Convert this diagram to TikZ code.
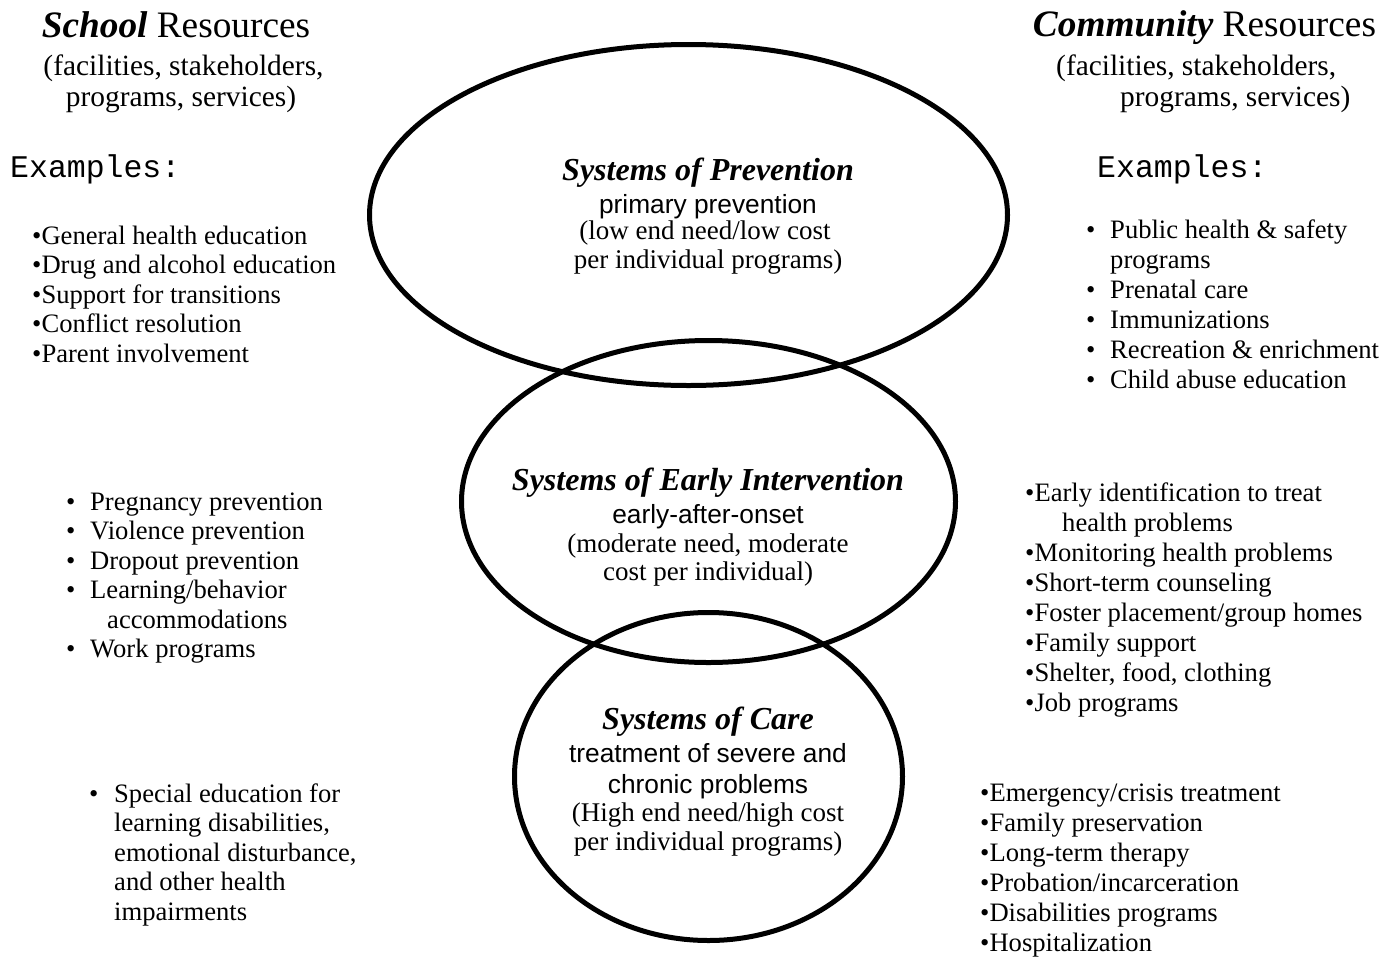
\documentclass[tikz,border=0pt]{standalone}
\usepackage{fontspec}
\setmainfont{Liberation Serif}
\newfontfamily\arialf{Liberation Sans}
\newfontfamily\courf{Liberation Mono}
\usetikzlibrary{shapes.geometric}
\tikzset{
  ttl/.style={font=\fontsize{37.3}{40}\selectfont, inner sep=0pt, anchor=base},
  sub/.style={font=\fontsize{29.4}{32}\selectfont, inner sep=0pt},
  exm/.style={font=\courf\fontsize{31.5}{32}\selectfont, inner sep=0pt, anchor=base west},
  li/.style={font=\fontsize{26.6}{30}\selectfont, inner sep=0pt, anchor=base west},
  hd/.style={font=\bfseries\itshape\fontsize{32}{36}\selectfont, inner sep=0pt, anchor=base},
  sf/.style={font=\arialf\fontsize{26.3}{30}\selectfont, inner sep=0pt, anchor=base},
  cs/.style={font=\fontsize{27}{30}\selectfont, inner sep=0pt, anchor=base},
  ring/.style={draw, ellipse, line width=5pt, inner sep=0pt, outer sep=0pt}
}
\begin{document}
\begin{tikzpicture}[x=1pt, y=-1pt]
\useasboundingbox (0,0) rectangle (1395,959);
% ellipses
\node[ring, minimum width=638pt, minimum height=341pt] (prev) at (688.5,215) {};
\node[ring, minimum width=494pt, minimum height=322pt] (early) at (708.5,501.5) {};
\node[ring, minimum width=388pt, minimum height=328pt] (care) at (708.5,776.5) {};
% ellipse texts
\node[hd] (p1) at (708,180) {Systems of Prevention};
\node[sf] (p2) at (708,213) {primary prevention};
\node[cs] (p3) at (705,239) {(low end need/low cost};
\node[cs] (p4) at (708,268) {per individual programs)};
\node[hd] (e1) at (708,490) {Systems of Early Intervention};
\node[sf] (e2) at (708,523) {early-after-onset};
\node[cs] (e3) at (708,552) {(moderate need, moderate};
\node[cs] (e4) at (708,580) {cost per individual)};
\node[hd] (c1) at (708,729) {Systems of Care};
\node[sf] (c2) at (708,762) {treatment of severe and};
\node[sf] (c3) at (708,793) {chronic problems};
\node[cs] (c4) at (708,821) {(High end need/high cost};
\node[cs] (c5) at (708,850) {per individual programs)};
% left header
\node[ttl] (lt) at (176,37) {\textbf{\textit{School}} Resources};
\node[sub, anchor=base] (ls1) at (183.5,75) {(facilities, stakeholders,};
\node[sub, anchor=base] (ls2) at (181,106) {programs, services)};
\node[exm] (lex) at (10,177) {Examples:};
% left list 1
\node[li] (la1) at (32,244) {•General health education};
\node[li] (la2) at (32,273.5) {•Drug and alcohol education};
\node[li] (la3) at (32,303) {•Support for transitions};
\node[li] (la4) at (32,332.5) {•Conflict resolution};
\node[li] (la5) at (32,362) {•Parent involvement};
% left list 2
\node[li] (lb1b) at (66,510) {•};
\node[li] (lb1) at (90,510) {Pregnancy prevention};
\node[li] (lb2b) at (66,539.5) {•};
\node[li] (lb2) at (90,539.5) {Violence prevention};
\node[li] (lb3b) at (66,569) {•};
\node[li] (lb3) at (90,569) {Dropout prevention};
\node[li] (lb4b) at (66,598.5) {•};
\node[li] (lb4) at (90,598.5) {Learning/behavior};
\node[li] (lb5) at (107,628) {accommodations};
\node[li] (lb6b) at (66,657.5) {•};
\node[li] (lb6) at (90,657.5) {Work programs};
% left list 3
\node[li] (lc1b) at (89,802) {•};
\node[li] (lc1) at (114,802) {Special education for};
\node[li] (lc2) at (114,831.5) {learning disabilities,};
\node[li] (lc3) at (114,861) {emotional disturbance,};
\node[li] (lc4) at (114,890.5) {and other health};
\node[li] (lc5) at (114,920) {impairments};
% right header
\node[ttl] (rt) at (1204.5,36) {\textbf{\textit{Community}} Resources};
\node[sub, anchor=base west] (rs1) at (1056,75) {(facilities, stakeholders,};
\node[sub, anchor=base west] (rs2) at (1120,106) {programs, services)};
\node[exm] (rex) at (1097,177) {Examples:};
% right list 1
\node[li] (ra1b) at (1086,238) {•};
\node[li] (ra1) at (1110,238) {Public health \& safety};
\node[li] (ra2) at (1110,268) {programs};
\node[li] (ra3b) at (1086,298) {•};
\node[li] (ra3) at (1110,298) {Prenatal care};
\node[li] (ra4b) at (1086,328) {•};
\node[li] (ra4) at (1110,328) {Immunizations};
\node[li] (ra5b) at (1086,358) {•};
\node[li] (ra5) at (1110,358) {Recreation \& enrichment};
\node[li] (ra6b) at (1086,388) {•};
\node[li] (ra6) at (1110,388) {Child abuse education};
% right list 2
\node[li] (rb1) at (1025,501) {•Early identification to treat};
\node[li] (rb2) at (1062,531) {health problems};
\node[li] (rb3) at (1025,561) {•Monitoring health problems};
\node[li] (rb4) at (1025,591) {•Short-term counseling};
\node[li] (rb5) at (1025,621) {•Foster placement/group homes};
\node[li] (rb6) at (1025,651) {•Family support};
\node[li] (rb7) at (1025,681) {•Shelter, food, clothing};
\node[li] (rb8) at (1025,711) {•Job programs};
% right list 3
\node[li] (rc1) at (980,801) {•Emergency/crisis treatment};
\node[li] (rc2) at (980,831) {•Family preservation};
\node[li] (rc3) at (980,861) {•Long-term therapy};
\node[li] (rc4) at (980,891) {•Probation/incarceration};
\node[li] (rc5) at (980,921) {•Disabilities programs};
\node[li] (rc6) at (980,951) {•Hospitalization};
\end{tikzpicture}
\end{document}
